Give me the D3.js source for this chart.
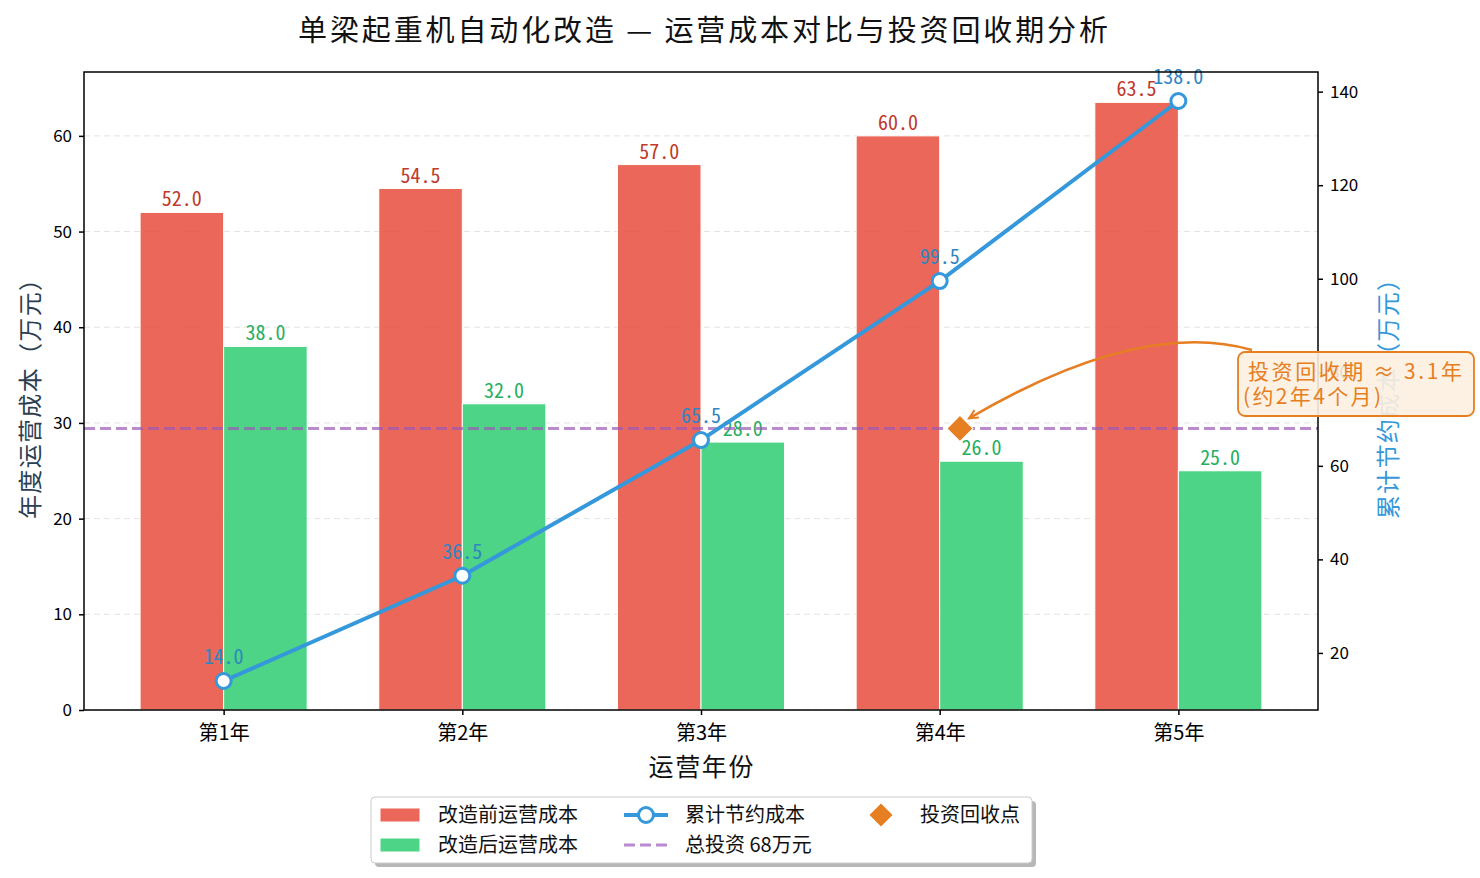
<!DOCTYPE html>
<html><head><meta charset="utf-8">
<script src="https://cdn.jsdelivr.net/npm/d3@7/dist/d3.min.js"></script>
<style>
html,body{margin:0;padding:0;background:#fff;}
svg text{font-family:"Noto Sans CJK SC","Noto Sans",sans-serif;}
</style></head>
<body>
<svg id="chart" width="1480" height="878"></svg>
<script>
const years = ['第1年','第2年','第3年','第4年','第5年'];
const costBefore = [52.0, 54.5, 57.0, 60.0, 63.5];
const costAfter = [38.0, 32.0, 28.0, 26.0, 25.0];
const cumSavings = [14.0, 36.5, 65.5, 99.5, 138.0];
const investment = 68;
const paybackX = 3.085;
const paybackLabel = ['投资回收期 ≈ 3.1年', '(约2年4个月)'];
const leftTicks = [0, 10, 20, 30, 40, 50, 60];
const rightTicks = [20, 40, 60, 80, 100, 120, 140];

const svg = d3.select('#chart');
const L = 84, R = 1318, T = 72, B = 710;
const barW = 0.35;
const x = d3.scaleLinear().domain([-0.585, 4.585]).range([L, R]);
const yL = d3.scaleLinear().domain([0, 66.675]).range([B, T]);
const yR = d3.scaleLinear().domain([7.8, 144.2]).range([B, T]);

const numFont = '"Noto Sans Mono CJK SC","Liberation Mono",monospace';

// grid
svg.append('g').selectAll('line').data(leftTicks).join('line')
  .attr('x1', L).attr('x2', R).attr('y1', d => yL(d)).attr('y2', d => yL(d))
  .attr('stroke', '#d9d9d9').attr('stroke-width', 1).attr('stroke-dasharray', '6,4').attr('opacity', 0.7);

// bars
const gb = svg.append('g');
gb.selectAll('.rb').data(costBefore).join('rect')
  .attr('x', (d, i) => x(i - barW)).attr('width', (d, i) => x(i) - x(i - barW))
  .attr('y', d => yL(d)).attr('height', d => yL(0) - yL(d))
  .attr('fill', '#e74c3c').attr('fill-opacity', 0.85).attr('stroke', '#fff').attr('stroke-width', 1);
gb.selectAll('.gb').data(costAfter).join('rect')
  .attr('x', (d, i) => x(i)).attr('width', (d, i) => x(i + barW) - x(i))
  .attr('y', d => yL(d)).attr('height', d => yL(0) - yL(d))
  .attr('fill', '#2ecc71').attr('fill-opacity', 0.85).attr('stroke', '#fff').attr('stroke-width', 1);
gb.selectAll('.rl').data(costBefore).join('text')
  .attr('x', (d, i) => x(i - barW / 2)).attr('y', d => yL(d) - 6)
  .attr('text-anchor', 'middle').attr('fill', '#c0392b').style('font-family', numFont).attr('font-size', 20)
  .text(d => d.toFixed(1));
gb.selectAll('.gl').data(costAfter).join('text')
  .attr('x', (d, i) => x(i + barW / 2)).attr('y', d => yL(d) - 6)
  .attr('text-anchor', 'middle').attr('fill', '#27ae60').style('font-family', numFont).attr('font-size', 20)
  .text(d => d.toFixed(1));

// investment line
svg.append('line').attr('x1', L).attr('x2', R).attr('y1', yR(investment)).attr('y2', yR(investment))
  .attr('stroke', '#9b59b6').attr('stroke-opacity', 0.7).attr('stroke-width', 3).attr('stroke-dasharray', '11,5');

// cumulative line
svg.append('path').datum(cumSavings)
  .attr('d', d3.line().x((d, i) => x(i)).y(d => yR(d)))
  .attr('fill', 'none').attr('stroke', '#3498db').attr('stroke-width', 4);
svg.append('g').selectAll('circle').data(cumSavings).join('circle')
  .attr('cx', (d, i) => x(i)).attr('cy', d => yR(d)).attr('r', 7.5)
  .attr('fill', '#fff').attr('stroke', '#3498db').attr('stroke-width', 3);
svg.append('g').selectAll('text').data(cumSavings).join('text')
  .attr('x', (d, i) => x(i)).attr('y', d => yR(d) - 17)
  .attr('text-anchor', 'middle').attr('fill', '#2e86c1').style('font-family', numFont).attr('font-size', 20)
  .text(d => d.toFixed(1));

// payback diamond
const px = x(paybackX), py = yR(investment);
svg.append('path').attr('d', d3.symbol().type(d3.symbolSquare).size(340)())
  .attr('transform', `translate(${px},${py}) rotate(45)`)
  .attr('fill', '#e67e22').attr('stroke', '#fff').attr('stroke-width', 1);

// annotation arrow
const ax0 = 1252, ay0 = 350, ax1 = px + 9, ay1 = py - 10;
const cx = 1140, cy = 318;
svg.append('path').attr('d', `M${ax0},${ay0} Q${cx},${cy} ${ax1},${ay1}`)
  .attr('fill', 'none').attr('stroke', '#e67e22').attr('stroke-width', 2.5);
{
  const ang = Math.atan2(ay1 - cy, ax1 - cx);
  const hl = 10, ha = 0.45;
  const p1 = [ax1 - hl * Math.cos(ang - ha), ay1 - hl * Math.sin(ang - ha)];
  const p2 = [ax1 - hl * Math.cos(ang + ha), ay1 - hl * Math.sin(ang + ha)];
  svg.append('path').attr('d', `M${p1[0]},${p1[1]} L${ax1},${ay1} L${p2[0]},${p2[1]}`)
    .attr('fill', 'none').attr('stroke', '#e67e22').attr('stroke-width', 2);
}

// axes frame
svg.append('rect').attr('x', L).attr('y', T).attr('width', R - L).attr('height', B - T)
  .attr('fill', 'none').attr('stroke', '#000').attr('stroke-width', 1.5);

// axes
const gl = svg.append('g').attr('transform', `translate(${L},0)`)
  .call(d3.axisLeft(yL).tickValues(leftTicks).tickSize(5).tickPadding(7).tickFormat(d3.format('d')));
const gr = svg.append('g').attr('transform', `translate(${R},0)`)
  .call(d3.axisRight(yR).tickValues(rightTicks).tickSize(5).tickPadding(7).tickFormat(d3.format('d')));
const gx = svg.append('g').attr('transform', `translate(0,${B})`)
  .call(d3.axisBottom(x).tickValues(d3.range(years.length)).tickSize(5).tickPadding(11).tickFormat(i => years[i]));
[gl, gr, gx].forEach(g => {
  g.select('.domain').remove();
  g.selectAll('.tick line').attr('stroke', '#000').attr('stroke-width', 1.5);
  g.selectAll('.tick text').attr('fill', '#000').style('font-family', '"Noto Sans CJK SC",sans-serif');
});
gl.selectAll('.tick text').attr('font-size', 17);
gr.selectAll('.tick text').attr('font-size', 17);
gx.selectAll('.tick text').attr('font-size', 20);

// axis titles
svg.append('text').attr('transform', `translate(39,${(T + B) / 2 + 2}) rotate(-90)`)
  .attr('text-anchor', 'middle').attr('fill', '#2c3e50').attr('font-size', 24)
  .attr('textLength', 252).attr('lengthAdjust', 'spacing').text('年度运营成本（万元）');
svg.append('text').attr('transform', `translate(1397,${(T + B) / 2 + 2}) rotate(-90)`)
  .attr('text-anchor', 'middle').attr('fill', '#3498db').attr('font-size', 24)
  .attr('textLength', 252).attr('lengthAdjust', 'spacing').text('累计节约成本（万元）');
svg.append('text').attr('x', (L + R) / 2).attr('y', 776).attr('text-anchor', 'middle')
  .attr('fill', '#111').attr('font-size', 25).attr('textLength', 105).attr('lengthAdjust', 'spacing').text('运营年份');
svg.append('text').attr('x', 703).attr('y', 41).attr('text-anchor', 'middle')
  .attr('fill', '#111').attr('font-size', 29).attr('textLength', 810).attr('lengthAdjust', 'spacing')
  .text('单梁起重机自动化改造 — 运营成本对比与投资回收期分析');

// annotation box
svg.append('rect').attr('x', 1238).attr('y', 352).attr('width', 236).attr('height', 64).attr('rx', 7)
  .attr('fill', '#fdf0e0').attr('fill-opacity', 0.9).attr('stroke', '#e67e22').attr('stroke-width', 1.8);
svg.append('g').selectAll('text').data(paybackLabel).join('text')
  .attr('x', (d, i) => i ? 1243 : 1248).attr('y', (d, i) => 379 + i * 25)
  .attr('fill', '#e67e22').attr('font-size', 21)
  .attr('textLength', (d, i) => i ? 138 : 214).attr('lengthAdjust', 'spacing').text(d => d);

// legend
const lg = svg.append('g');
lg.append('rect').attr('x', 375).attr('y', 801).attr('width', 661).attr('height', 66).attr('rx', 4)
  .attr('fill', '#999').attr('opacity', 0.7);
lg.append('rect').attr('x', 371).attr('y', 797).attr('width', 661).attr('height', 66).attr('rx', 4)
  .attr('fill', '#fff').attr('stroke', '#ccc').attr('stroke-width', 1);
const r1 = 815, r2 = 845;
lg.append('rect').attr('x', 380).attr('y', r1 - 7).attr('width', 40).attr('height', 14)
  .attr('fill', '#e74c3c').attr('fill-opacity', 0.85).attr('stroke', '#fff');
lg.append('rect').attr('x', 380).attr('y', r2 - 7).attr('width', 40).attr('height', 14)
  .attr('fill', '#2ecc71').attr('fill-opacity', 0.85).attr('stroke', '#fff');
lg.append('line').attr('x1', 624).attr('x2', 668).attr('y1', r1).attr('y2', r1)
  .attr('stroke', '#3498db').attr('stroke-width', 4);
lg.append('circle').attr('cx', 646).attr('cy', r1).attr('r', 7.5)
  .attr('fill', '#fff').attr('stroke', '#3498db').attr('stroke-width', 3);
lg.append('line').attr('x1', 624).attr('x2', 668).attr('y1', r2).attr('y2', r2)
  .attr('stroke', '#9b59b6').attr('stroke-opacity', 0.7).attr('stroke-width', 3).attr('stroke-dasharray', '11,5');
lg.append('path').attr('d', d3.symbol().type(d3.symbolSquare).size(300)())
  .attr('transform', `translate(881,${r1}) rotate(45)`).attr('fill', '#e67e22').attr('stroke', '#fff');
const legendTexts = [
  {t: '改造前运营成本', x: 438, y: r1}, {t: '改造后运营成本', x: 438, y: r2},
  {t: '累计节约成本', x: 685, y: r1}, {t: '总投资 68万元', x: 685, y: r2},
  {t: '投资回收点', x: 920, y: r1}
];
lg.selectAll('text.lt').data(legendTexts).join('text')
  .attr('x', d => d.x).attr('y', d => d.y + 7).attr('font-size', 20).attr('fill', '#111').text(d => d.t);
</script>
</body></html>
